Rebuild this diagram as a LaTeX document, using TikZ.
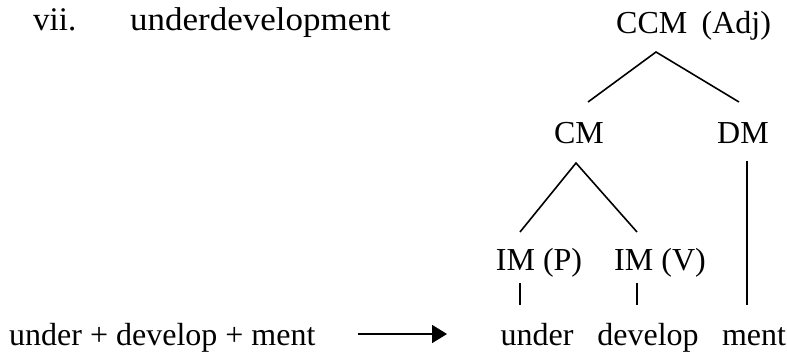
\documentclass[tikz,border=0pt]{standalone}
\usepackage{fontspec}
\setmainfont{Liberation Serif}
\usetikzlibrary{arrows.meta}
\begin{document}
\begin{tikzpicture}[x=1pt,y=-1pt,
  txt/.style={inner sep=0pt, anchor=base, font=\fontsize{32}{38}\selectfont},
  head/.style={inner sep=0pt, anchor=base west, font=\fontsize{33}{40}\selectfont},
  ln/.style={line width=1.6pt}]
\useasboundingbox (0,0) rectangle (787,351);
% texts
\node[head] (num) at (33,30) {vii.};
\node[head] (word) at (130,30) {\scalebox{1.06}[1]{underdevelopment}};
\node[txt, anchor=base west] (ccm) at (616,33) {CCM\hspace{0.45em}(Adj)};
\node[txt] (cm) at (579,143) {CM};
\node[txt] (dm) at (743,143) {DM};
\node[txt] (imp) at (539,270) {IM (P)};
\node[txt] (imv) at (660,270) {IM (V)};
\node[txt] (under) at (537,345) {under};
\node[txt] (develop) at (648,345) {develop};
\node[txt] (ment) at (754,345) {ment};
\node[txt, anchor=base west] (src) at (9,345) {under + develop + ment};
% connector ends
\coordinate (ccmtop) at (656,52);
\coordinate (ccmL) at (588,102);
\coordinate (ccmR) at (739,102);
\coordinate (cmtop) at (576,163);
\coordinate (cmL) at (520,232);
\coordinate (cmR) at (637,232);
\coordinate (dmtop) at (747,161);
\coordinate (dmbot) at (747,305);
\coordinate (tpA) at (520,283);
\coordinate (tpB) at (520,305);
\coordinate (tvA) at (637,283);
\coordinate (tvB) at (637,305);
\coordinate (arA) at (358,334);
\coordinate (arB) at (447,334);
% connectors
\draw[ln] (ccmL) -- (ccmtop) -- (ccmR);
\draw[ln] (cmL) -- (cmtop) -- (cmR);
\draw[ln] (dmtop) -- (dmbot);
\draw[ln] (tpA) -- (tpB);
\draw[ln] (tvA) -- (tvB);
\draw[ln, line width=1.9pt, -{Triangle[length=15pt,width=18pt]}] (arA) -- (arB);
\end{tikzpicture}
\end{document}
